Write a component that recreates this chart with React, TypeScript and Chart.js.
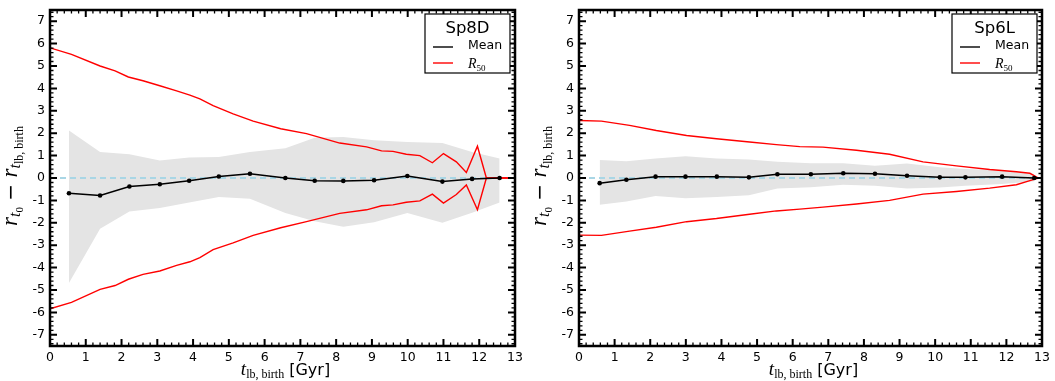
import React, { useEffect, useRef } from 'react';
import { Chart, registerables } from 'chart.js';

Chart.register(...registerables);

// ---------- axes ----------
const X_TICKS = [0, 1, 2, 3, 4, 5, 6, 7, 8, 9, 10, 11, 12, 13];
const Y_TICKS = [-7, -6, -5, -4, -3, -2, -1, 0, 1, 2, 3, 4, 5, 6, 7];
const X_MIN = 0;
const X_MAX = 13;
const Y_MIN = -7.5;
const Y_MAX = 7.5;

// ---------- Sp8D ----------
const sp8dMeanX = [0.53, 1.4, 2.22, 3.07, 3.89, 4.72, 5.59, 6.58, 7.4, 8.2, 9.06, 9.99, 10.97, 11.8, 12.57];
const sp8dMeanY = [-0.68, -0.78, -0.38, -0.28, -0.12, 0.07, 0.19, 0.0, -0.12, -0.13, -0.1, 0.09, -0.16, -0.04, 0.0];
const sp8dBandUp = [2.12, 1.16, 1.06, 0.78, 0.92, 0.94, 1.16, 1.33, 1.8, 1.83, 1.68, 1.61, 1.56, 1.16, 0.87];
const sp8dBandLow = [-4.69, -2.27, -1.49, -1.34, -1.09, -0.85, -0.93, -1.56, -1.93, -2.18, -1.98, -1.56, -2.0, -1.55, -1.09];
const sp8dR50X = [0, 0.6, 1.4, 1.82, 2.19, 2.6, 3.07, 3.54, 3.91, 4.19, 4.56, 5.12, 5.68, 6.45, 7.17, 8.1, 8.85, 9.27, 9.59, 9.96, 10.34, 10.69, 11.0, 11.36, 11.64, 11.95, 12.2, 13];
const sp8dR50Up = [5.81, 5.52, 5.0, 4.78, 4.51, 4.34, 4.12, 3.89, 3.7, 3.53, 3.23, 2.86, 2.54, 2.2, 1.98, 1.56, 1.39, 1.21, 1.19, 1.06, 1.0, 0.68, 1.09, 0.72, 0.25, 1.42, 0.0, 0.0];
const sp8dR50Low = [-5.84, -5.55, -4.97, -4.8, -4.52, -4.3, -4.15, -3.9, -3.74, -3.55, -3.2, -2.9, -2.56, -2.22, -1.95, -1.58, -1.42, -1.24, -1.2, -1.08, -1.02, -0.72, -1.12, -0.74, -0.31, -1.42, 0.0, 0.0];

// ---------- Sp6L ----------
const sp6lMeanX = [0.58, 1.33, 2.15, 2.99, 3.87, 4.77, 5.57, 6.51, 7.42, 8.31, 9.21, 10.13, 10.85, 11.88, 12.78];
const sp6lMeanY = [-0.23, -0.08, 0.06, 0.06, 0.06, 0.03, 0.17, 0.17, 0.21, 0.19, 0.1, 0.03, 0.03, 0.06, 0.0];
const sp6lBandUp = [0.8, 0.75, 0.87, 0.97, 0.87, 0.83, 0.72, 0.66, 0.66, 0.55, 0.65, 0.48, 0.4, 0.33, 0.18];
const sp6lBandLow = [-1.19, -1.05, -0.8, -0.9, -0.85, -0.77, -0.47, -0.41, -0.3, -0.35, -0.47, -0.42, -0.35, -0.27, -0.15];
const sp6lR50X = [0, 0.63, 1.42, 2.17, 3.02, 3.86, 4.79, 5.54, 6.2, 6.85, 7.79, 8.72, 9.66, 10.6, 11.53, 12.28, 12.66, 12.9];
const sp6lR50Up = [2.57, 2.54, 2.35, 2.12, 1.9, 1.75, 1.61, 1.49, 1.4, 1.38, 1.24, 1.06, 0.72, 0.54, 0.38, 0.28, 0.21, 0.0];
const sp6lR50Low = [-2.55, -2.56, -2.37, -2.2, -1.95, -1.81, -1.62, -1.47, -1.39, -1.3, -1.16, -1.0, -0.72, -0.6, -0.45, -0.3, -0.12, 0.0];

const ZERO_X = [0, 13];
const ZERO_Y = [0, 0];

const pts = (xs: number[], ys: number[]) => xs.map((x, i) => ({ x, y: ys[i] }));

type Part = { t: string; f: string; dy: number };

function drawParts(ctx: CanvasRenderingContext2D, parts: Part[], x: number, y: number) {
  let w = 0;
  parts.forEach((p) => {
    ctx.font = p.f;
    w += ctx.measureText(p.t).width;
  });
  let cx = x - w / 2;
  ctx.textAlign = 'left';
  ctx.textBaseline = 'alphabetic';
  parts.forEach((p) => {
    ctx.font = p.f;
    ctx.fillText(p.t, cx, y + p.dy);
    cx += ctx.measureText(p.t).width;
  });
}

const SERIF = '"Liberation Serif", "DejaVu Serif", serif';
const SANS = '"DejaVu Sans", sans-serif';

function makePlugin(name: string) {
  return {
    id: 'decor',
    afterDraw(chart: any) {
      const ctx: CanvasRenderingContext2D = chart.ctx;
      const a = chart.chartArea;
      const xs = chart.scales.x;
      const ys = chart.scales.y;
      ctx.save();
      ctx.strokeStyle = '#000';
      ctx.fillStyle = '#000';
      ctx.lineCap = 'butt';

      // minor ticks
      ctx.lineWidth = 1.3;
      ctx.beginPath();
      for (let i = 0; i <= 65; i++) {
        if (i % 5 === 0) continue;
        const px = xs.getPixelForValue(i / 5);
        ctx.moveTo(px, a.bottom);
        ctx.lineTo(px, a.bottom - 3.5);
        ctx.moveTo(px, a.top);
        ctx.lineTo(px, a.top + 3.5);
      }
      for (let i = -37; i <= 37; i++) {
        if (i % 5 === 0) continue;
        const py = ys.getPixelForValue(i / 5);
        ctx.moveTo(a.left, py);
        ctx.lineTo(a.left + 3.5, py);
        ctx.moveTo(a.right, py);
        ctx.lineTo(a.right - 3.5, py);
      }
      ctx.stroke();

      // major ticks
      ctx.lineWidth = 2;
      ctx.beginPath();
      xs.ticks.forEach((t: any) => {
        const px = xs.getPixelForValue(t.value);
        ctx.moveTo(px, a.bottom);
        ctx.lineTo(px, a.bottom - 7);
        ctx.moveTo(px, a.top);
        ctx.lineTo(px, a.top + 7);
      });
      ys.ticks.forEach((t: any) => {
        const py = ys.getPixelForValue(t.value);
        ctx.moveTo(a.left, py);
        ctx.lineTo(a.left + 7, py);
        ctx.moveTo(a.right, py);
        ctx.lineTo(a.right - 7, py);
      });
      ctx.stroke();

      // frame
      ctx.lineWidth = 2.5;
      ctx.strokeRect(a.left, a.top, a.right - a.left, a.bottom - a.top);

      // tick labels
      ctx.font = '12.5px ' + SANS;
      ctx.textAlign = 'center';
      ctx.textBaseline = 'top';
      xs.ticks.forEach((t: any) => {
        ctx.fillText(String(t.value), xs.getPixelForValue(t.value), a.bottom + 5);
      });
      ctx.textAlign = 'right';
      ctx.textBaseline = 'middle';
      ys.ticks.forEach((t: any) => {
        ctx.fillText(String(t.value), a.left - 5, ys.getPixelForValue(t.value));
      });

      // x title
      const cxTitle = (a.left + a.right) / 2;
      drawParts(
        ctx,
        [
          { t: 't', f: 'italic 19px ' + SERIF, dy: 0 },
          { t: 'lb, birth', f: '12px ' + SERIF, dy: 3 },
          { t: ' [Gyr]', f: '16px ' + SANS, dy: 0 },
        ],
        cxTitle + 3,
        a.bottom + 29
      );

      // y title (rotated)
      ctx.save();
      ctx.translate(a.left - 33, (a.top + a.bottom) / 2 - 2);
      ctx.rotate(-Math.PI / 2);
      drawParts(
        ctx,
        [
          { t: 'r', f: 'italic 23px ' + SERIF, dy: 0 },
          { t: 't', f: 'italic 16px ' + SERIF, dy: 3 },
          { t: '0', f: '11px ' + SERIF, dy: 6 },
          { t: ' \u2212 ', f: '20px ' + SANS, dy: 0 },
          { t: 'r', f: 'italic 23px ' + SERIF, dy: 0 },
          { t: 't', f: 'italic 16px ' + SERIF, dy: 3 },
          { t: 'lb, birth', f: '12px ' + SERIF, dy: 6 },
        ],
        0,
        0
      );
      ctx.restore();

      // legend
      const lw = 85;
      const lh = 59;
      const lx = a.right - 5 - lw;
      const ly = a.top + 4;
      ctx.fillStyle = '#fff';
      ctx.fillRect(lx, ly, lw, lh);
      ctx.lineWidth = 1.2;
      ctx.strokeStyle = '#000';
      ctx.strokeRect(lx, ly, lw, lh);
      ctx.fillStyle = '#000';
      ctx.font = '16.5px ' + SANS;
      ctx.textAlign = 'center';
      ctx.textBaseline = 'alphabetic';
      ctx.fillText(name, lx + lw / 2, ly + 19);
      // Mean row
      ctx.lineWidth = 1.4;
      ctx.beginPath();
      ctx.moveTo(lx + 8, ly + 33);
      ctx.lineTo(lx + 28, ly + 33);
      ctx.stroke();
      ctx.font = '12.5px ' + SANS;
      ctx.textAlign = 'left';
      ctx.textBaseline = 'middle';
      ctx.fillText('Mean', lx + 43, ly + 32);
      // R50 row
      ctx.strokeStyle = '#ff0000';
      ctx.beginPath();
      ctx.moveTo(lx + 8, ly + 49);
      ctx.lineTo(lx + 28, ly + 49);
      ctx.stroke();
      ctx.textBaseline = 'alphabetic';
      ctx.font = 'italic 14px ' + SERIF;
      ctx.fillText('R', lx + 43, ly + 54);
      const rw = ctx.measureText('R').width;
      ctx.font = '9px ' + SERIF;
      ctx.fillText('50', lx + 43 + rw, ly + 57);

      ctx.restore();
    },
  };
}

interface PanelProps {
  name: string;
  left: number;
  width: number;
  yAxisWidth: number;
  rightPad: number;
  meanX: number[];
  meanY: number[];
  bandUp: number[];
  bandLow: number[];
  r50X: number[];
  r50Up: number[];
  r50Low: number[];
}

function Panel(p: PanelProps) {
  const ref = useRef<HTMLCanvasElement>(null);
  useEffect(() => {
    if (!ref.current) return;
    const chart = new Chart(ref.current, {
      type: 'line',
      data: {
        datasets: [
          {
            label: 'Mean',
            data: pts(p.meanX, p.meanY),
            borderColor: '#000',
            backgroundColor: '#000',
            borderWidth: 1.5,
            pointRadius: 2.3,
            pointBorderWidth: 0,
            fill: false,
          },
          {
            label: 'R50 up',
            data: pts(p.r50X, p.r50Up),
            borderColor: '#ff0000',
            borderWidth: 1.4,
            pointRadius: 0,
            fill: false,
          },
          {
            label: 'R50 low',
            data: pts(p.r50X, p.r50Low),
            borderColor: '#ff0000',
            borderWidth: 1.4,
            pointRadius: 0,
            fill: false,
          },
          {
            label: 'zero',
            data: pts(ZERO_X, ZERO_Y),
            borderColor: '#a9d6e5',
            borderWidth: 2,
            borderDash: [6, 4],
            pointRadius: 0,
            fill: false,
          },
          {
            label: 'band up',
            data: pts(p.meanX, p.bandUp),
            borderWidth: 0,
            borderColor: 'rgba(0,0,0,0)',
            backgroundColor: '#e4e4e4',
            pointRadius: 0,
            fill: '+1',
          },
          {
            label: 'band low',
            data: pts(p.meanX, p.bandLow),
            borderWidth: 0,
            borderColor: 'rgba(0,0,0,0)',
            pointRadius: 0,
            fill: false,
          },
        ],
      },
      options: {
        animation: false,
        responsive: false,
        maintainAspectRatio: false,
        devicePixelRatio: 1,
        layout: { padding: { left: 0, right: p.rightPad, top: 10, bottom: 0 } },
        plugins: { legend: { display: false }, tooltip: { enabled: false } },
        elements: { line: { tension: 0 } },
        scales: {
          x: {
            type: 'linear',
            min: X_MIN,
            max: X_MAX,
            afterBuildTicks: (s: any) => {
              s.ticks = X_TICKS.map((v) => ({ value: v }));
            },
            afterFit: (s: any) => {
              s.height = 35;
            },
            ticks: { display: false },
            grid: { display: false },
            border: { display: false },
          },
          y: {
            type: 'linear',
            min: Y_MIN,
            max: Y_MAX,
            afterBuildTicks: (s: any) => {
              s.ticks = Y_TICKS.map((v) => ({ value: v }));
            },
            afterFit: (s: any) => {
              s.width = p.yAxisWidth;
            },
            ticks: { display: false },
            grid: { display: false },
            border: { display: false },
          },
        },
      } as any,
      plugins: [makePlugin(p.name) as any],
    });
    return () => chart.destroy();
  }, []);
  return (
    <canvas
      ref={ref}
      width={p.width}
      height={381}
      style={{ position: 'absolute', left: p.left, top: 0, width: p.width, height: 381 }}
    />
  );
}

export default function App() {
  return (
    <div style={{ position: 'fixed', left: 0, top: 0, width: 1055, height: 381, background: '#fff' }}>
      <Panel
        name="Sp8D"
        left={0}
        width={527}
        yAxisWidth={50}
        rightPad={12}
        meanX={sp8dMeanX}
        meanY={sp8dMeanY}
        bandUp={sp8dBandUp}
        bandLow={sp8dBandLow}
        r50X={sp8dR50X}
        r50Up={sp8dR50Up}
        r50Low={sp8dR50Low}
      />
      <Panel
        name="Sp6L"
        left={527}
        width={528}
        yAxisWidth={52}
        rightPad={13}
        meanX={sp6lMeanX}
        meanY={sp6lMeanY}
        bandUp={sp6lBandUp}
        bandLow={sp6lBandLow}
        r50X={sp6lR50X}
        r50Up={sp6lR50Up}
        r50Low={sp6lR50Low}
      />
    </div>
  );
}
